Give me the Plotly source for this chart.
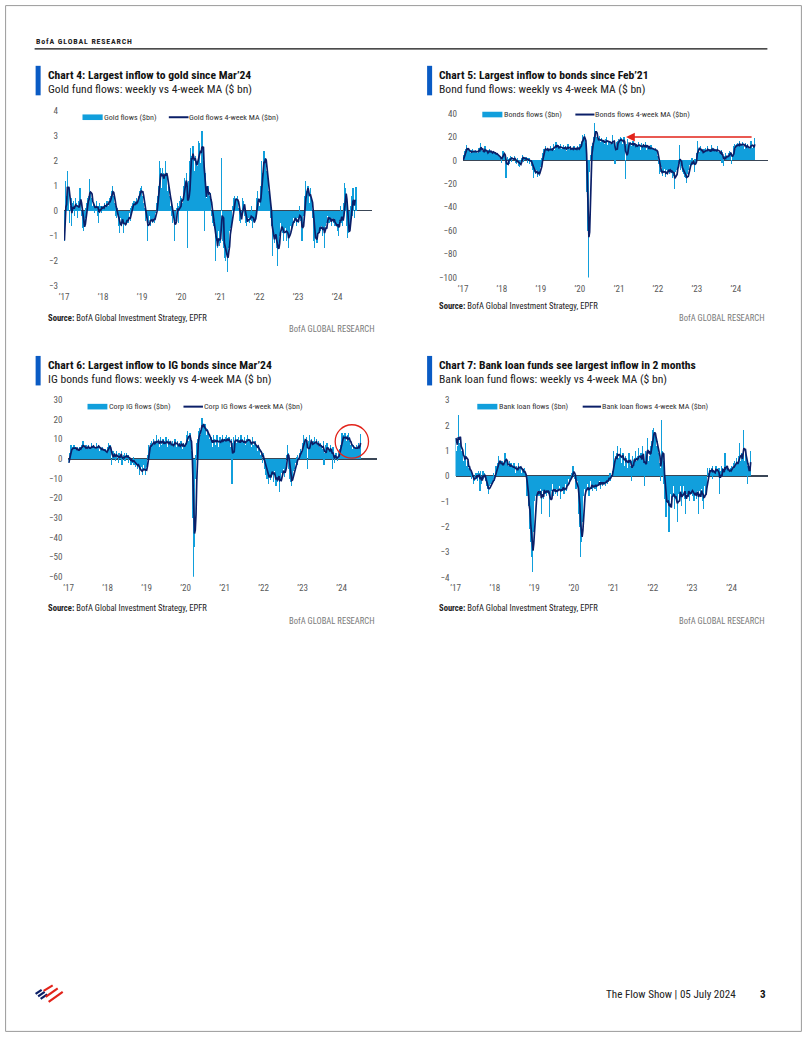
import pandas as pd
import plotly.graph_objects as go

# ---------------- DATA (weekly, first week 2017-01-04) ----------------
gold_2017 = [-1.2, 1.2, 0.4, 0.6, 1.6, 0.9, 0.7, -0.5,
             0.2, 0.5, -0.6, 0.3, 0.4, 0.2, -0.2, 0.5,
             0.3, 0.2, -0.3, 0.4, 0.2, 0.9, 0.3, -0.2,
             -0.7, -0.6, -0.8, -0.5, -0.3, 0.1, 0.3, 0.5,
             0.6, 0.4, 1.25, 0.7, 0.5, 0.2, 0.1, 0.3,
             -0.1, 0.2, 0.1, 0.4, -0.2, 0.2, -0.5, 0.3,
             0.1, 0.2, -0.1, 0.2]
gold_2018 = [0.2, 0.1, 0.3, 0.2, 0.1, 0.4, 0.3, 0.2,
             0.5, 0.4, 0.6, 0.8, 1.0, 0.6, 0.5, 0.3,
             0.2, -0.2, -0.3, 0.1, -0.4, -0.6, -0.9, -0.3,
             -0.5, -0.2, -0.4, -0.9, -0.5, -0.3, -0.6, -0.4,
             -0.2, -0.5, -0.3, -0.1, -0.4, 0.1, 0.2, 0.3,
             0.1, 0.4, 0.2, 0.3, 0.5, 0.2, 0.4, 0.6,
             0.8, 0.5, 0.9, 1.0]
gold_2019 = [0.6, 0.5, 0.3, 0.1, -0.2, -0.4, -0.3, -1.2,
             -0.5, -0.3, -0.2, -0.6, -0.4, -0.3, -0.5, -0.2,
             -0.3, -0.5, -0.1, 0.2, 0.3, 0.6, 1.0, 2.0,
             1.2, 1.7, 0.9, 1.7, 1.5, 1.0, 1.4, 2.0,
             1.2, 1.4, 0.8, 1.0, 0.6, 0.4, 0.2, 0.3,
             -0.2, -0.5, -0.3, -1.2, -0.2, -0.4, 0.1, 0.3,
             0.2, -0.5, 0.4, 0.6]
gold_2020 = [0.2, 0.5, 0.3, 0.8, 1.0, 1.3, 1.0, 1.5,
             0.6, -1.5, 1.2, 2.0, 1.7, 2.5, 2.2, 1.8,
             2.6, 2.0, 1.6, 2.2, 1.5, 2.0, 1.8, 2.8,
             2.2, 2.7, 1.9, 2.4, 3.2, 2.6, 2.0, -0.8,
             1.5, 1.0, 0.5, 0.9, 1.0, 0.3, 0.6, 0.7,
             0.2, -0.2, -0.5, -0.3, -0.6, -0.4, -2.0, -1.2,
             -1.0, -1.5, -0.8, -1.4]
gold_2021 = [-1.0, -1.3, 2.1, -0.6, -1.2, -1.5, -1.9, -1.3,
             -2.0, -1.6, -2.45, -1.5, -1.0, -0.8, -0.5, -0.7,
             -0.3, 0.2, 0.5, 0.3, 0.6, 0.4, 0.5, 0.2,
             0.6, 0.1, -0.4, -0.3, -0.5, -0.2, 0.5, 0.4,
             0.3, -0.2, -0.5, -0.3, -0.6, -0.4, -0.2, -0.3,
             -0.5, -0.3, 0.2, -0.4, -0.7, -0.3, -0.5, -0.2,
             -0.3, 0.5, 0.8, 0.3]
gold_2022 = [0.3, 0.2, 0.5, 1.0, 2.0, 1.5, 1.8, 2.4,
             2.0, 2.1, 1.6, 1.2, 1.5, 0.8, 0.6, 0.3,
             -0.3, -0.6, -1.8, -0.9, -0.6, -1.3, -1.0, -0.9,
             -1.5, -2.2, -1.4, -1.0, -0.7, -0.5, -0.8, -0.6,
             -0.9, -1.2, -0.8, -0.6, -0.7, -1.2, -0.9, -0.8,
             -1.5, -1.0, -0.6, -0.4, -0.8, -0.5, -0.3, -0.2,
             -0.5, -0.3, -0.4, -0.6]
gold_2023 = [-0.3, -0.5, 0.2, -0.2, -0.4, -0.8, -1.2, -0.3,
             -0.2, 0.3, 0.6, 1.2, 0.8, 0.6, 1.0, 0.4,
             0.3, 0.9, 0.5, 0.2, -0.3, -0.6, -1.2, -1.5,
             -1.0, -0.8, -1.3, -0.6, -0.9, -0.7, -0.5, -0.8,
             -0.6, -1.0, -0.7, -0.4, -1.5, -0.6, -0.3, -0.5,
             -0.2, -0.1, -0.5, -0.4, -0.3, -0.6, -0.2, -0.3,
             -0.5, -0.4, -0.6, -0.5]
gold_2024 = [-0.6, -0.8, -0.3, -1.0, -0.4, 0.2, -0.5, -0.3, -0.6,
             -0.2, 0.3, 1.1, 0.9, 0.4, -0.6, -1.1, -0.9, -0.8,
             -0.4, 0.2, 0.6, -0.2, 0.9, 0.4, -0.3, 0.6, 0.95]

bond_2017 = [0.5, 5, 8, 10, 13, 9, 7, 11,
             8, 6, 5, 9, 10, 7, 6, 8,
             9, 7, 8, 6, 9, 11, 7, 15,
             10, 6, 8, 7, 9, 12, 5, 8,
             7, 6, 9, 10, 5, 8, 6, 7,
             8, 5, 6, 7, 4, 6, 3, 5,
             2, 3, 1, -2]
bond_2018 = [6, 8, 5, 4, 2, -15, -2, 3,
             1, -3, 2, 4, 3, -1, 0, 2,
             4, 1, -2, -3, 0, 2, -5, -6,
             -3, 0, 2, 5, 3, -1, 1, 2,
             3, 0, -2, 1, 2, -3, -1, 0,
             -5, -8, -15, -6, -10, -12, -8, -14,
             -11, -9, -13, -6]
bond_2019 = [-4, 2, 6, 9, 10, 8, 12, 7,
             9, 11, 8, 10, 7, 12, 9, 8,
             11, 14, 9, 12, 16, 10, 13, 11,
             9, 12, 14, 10, 8, 11, 13, 9,
             10, 12, 8, 11, 14, 9, 10, 12,
             8, 10, 11, 9, 12, 8, 10, 11,
             9, 12, 10, 8]
bond_2020 = [14, 12, 16, 22, 17, 20, 23, 15,
             10, -27, -60, -100, -75, -10, 5, 12,
             12, 15, 20, 22, 32, 24, 20, 18,
             15, 18, 21, 16, 14, 19, 17, 15,
             16, 14, 18, 15, 20, 13, 16, 15,
             17, 14, 12, 16, 22, 15, 13, -3,
             12, 16, 14, 17]
bond_2021 = [18, 16, 20, 15, 19, 14, 17, 20,
             12, -16, 8, 14, 18, 12, 15, 13,
             16, 12, 14, 17, 11, 15, 13, 10,
             14, 12, 16, 11, 13, 9, 15, 12,
             11, 14, 10, 12, 16, 9, 13, 11,
             10, 12, 8, 13, 9, 11, 7, 10,
             8, 11, 6, 9]
bond_2022 = [4, -3, -8, -12, -10, -6, -13, -9,
             -11, -7, -12, -14, -8, -10, -5, -9,
             -12, -7, -11, -6, -15, -9, -13, -24,
             -10, -6, -8, -4, -2, 13, -3, -8,
             -5, -8, -10, -12, -14, -10, -15, -19,
             -12, -8, -4, -2, -6, -1, 2, -4,
             0, -10, 1, -2]
bond_2023 = [6, 17, 9, 10, 7, 12, 9, 6,
             8, 4, 10, 7, 11, 6, 9, 12,
             8, 5, 10, 7, 13, 9, 6, 11,
             8, 10, 6, 9, 12, 7, 5, 8,
             6, 9, -2, 7, -5, 4, 2, 6,
             3, 1, 4, 6, 8, 5, 7, -3,
             4, 10, 12, 14]
bond_2024 = [10, 14, 12, 15, 13, 11, 17, 12, 14,
             13, 16, 12, 10, 15, 9, 12, 14, 11,
             8, 10, 15, 17, 9, 11, 13, 12, 19]

ig_2017 = [-2, 3, 5, 7, 4, 6, 5, 7,
           4, 6, 5, 3, 6, 4, 5, 6,
           5, 7, 6, 9, 5, 6, 4, 7,
           6, 5, 7, 4, 6, 5, 8, 6,
           5, 7, 6, 4, 5, 8, 6, 5,
           7, 4, 6, 5, 3, 6, 4, 5,
           3, 5, 2, 4]
ig_2018 = [6, 8, 5, 7, 3, -3, 2, 4,
           1, 3, -1, 2, 4, 0, -2, 3,
           2, 1, 4, -3, 0, 2, 3, -1,
           1, 3, 0, 2, -2, 1, 0, -3,
           0, -2, 1, -3, -2, -4, -1, -3,
           -5, -3, -6, -8, -5, -4, -8, -6,
           -3, -5, -8, -6]
ig_2019 = [-4, 2, 5, 7, 6, 8, 5, 9,
           7, 10, 8, 6, 9, 12, 7, 8,
           10, 6, 9, 11, 7, 8, 10, 6,
           9, 7, 11, 8, 6, 10, 7, 9,
           8, 5, 7, 9, 6, 8, 10, 7,
           6, 9, 7, 5, 8, 6, 9, 7,
           5, 8, 6, 7]
ig_2020 = [8, 10, 12, 14, 9, 11, 13, 7,
           4, -17, -30, -60, -45, -10, 2, 8,
           10, 12, 14, 16, 12, 18, 21, 15,
           17, 13, 18, 14, 12, 15, 11, 13,
           10, 7, 11, 9, 6, 12, 8, 10,
           7, 9, 12, 8, 6, 10, 11, 7,
           9, 12, 8, 10]
ig_2021 = [9, 11, 7, 12, 10, 8, 11, 9,
           6, 10, -13, 8, 11, 7, 9, 12,
           8, 10, 6, 11, 9, 7, 12, 8,
           10, 6, 9, 11, 7, 8, 10, 12,
           9, 7, 10, 8, 6, 9, 11, 7,
           8, 5, 9, 6, 4, 7, 3, 5,
           2, 4, 1, -2]
ig_2022 = [3, -2, -5, -8, -4, -10, -6, -13,
           -9, -5, -11, -7, -3, -8, -12, -6,
           -10, -14, -8, -12, -6, -9, -17, -11,
           -7, -4, -8, -5, -9, -6, -3, 2,
           7, 3, -5, -10, -12, -8, -14, -9,
           -6, -3, -5, -2, 1, -3, 2, 0,
           3, 2, 5, 4]
ig_2023 = [6, 8, 12, 9, 10, 7, 11, -5,
           9, 6, 12, 8, 10, 5, 7, 9,
           11, 6, 8, 10, 7, 5, 9, 6,
           8, 4, 7, 5, 9, -3, 3, 7,
           5, 8, 2, 6, 3, 4, 7, 5,
           -5, 6, 2, -2, 1, 3, 0, -1,
           2, 4, 5, 7]
ig_2024 = [9, 13, 10, 12, 8, 13, 11, 9, 12,
           8, 13, 9, 7, 6, 8, 5, 7, 4,
           6, 5, 7, 4, 6, 8, 5, 7, 12.5]

loan_2017 = [1.5, 1.0, 1.2, 2.4, 1.3, 1.1, 1.4, 0.9,
             1.0, 0.8, 0.6, 0.7, 0.5, 1.3, 0.4, 0.6,
             0.3, 0.2, 0.4, 0.1, 0.2, -0.1, 0.1, -0.3,
             -0.2, 0.0, 0.1, -0.1, 0.1, -0.2, 0.2, 0.1,
             -0.6, 0.2, -0.3, 0.0, 0.2, -0.1, 0.1, -0.2,
             -0.3, -0.4, -0.5, -0.7, -0.4, -0.3, -0.2, -0.4,
             -0.3, -0.1, 0.1, -0.2]
loan_2018 = [0.2, 0.4, 0.3, 0.5, 0.8, 0.4, 0.6, 0.5,
             0.4, 0.6, 0.3, 0.5, 0.7, 0.9, 0.4, 0.6,
             0.5, 0.3, 0.4, 0.6, 0.2, 0.5, 0.3, 0.4,
             0.2, 0.5, 0.3, 0.1, 0.4, 0.2, 0.3, 0.5,
             0.3, 0.2, 0.4, 0.1, 0.3, 0.2, 0.0, 0.3,
             0.1, -0.2, -0.8, -0.5, -1.2, -2.1, -1.6, -2.6,
             -3.2, -3.8, -2.2, -1.5]
loan_2019 = [-1.0, -0.8, -0.5, -0.9, -0.6, -0.4, -0.8, -0.7,
             -0.5, -1.5, -0.3, -0.6, -0.9, -0.4, -0.7, -0.5,
             -0.8, -0.6, -0.4, -0.7, -1.6, -0.9, -0.5, -0.6,
             -0.3, -0.8, -0.6, -0.4, -0.7, -0.5, -0.8, -0.3,
             -0.6, -0.4, -0.9, -0.5, -0.3, -0.6, -0.4, -0.7,
             -0.5, -0.3, -0.6, -0.2, -0.4, -0.1, -0.3, 0.0,
             -0.2, 0.1, 0.0, 0.4]
loan_2020 = [0.2, -0.1, -0.3, -0.5, -0.4, -0.2, -0.8, -1.5,
             -2.0, -3.2, -2.6, -1.8, -1.0, -0.8, -0.5, -0.7,
             -0.4, -0.6, -0.3, -0.5, -0.8, -0.4, -0.2, -0.5,
             -0.3, -0.6, -0.4, -0.2, -0.5, -0.3, -0.6, -0.1,
             -0.4, -0.3, -0.2, -0.5, -0.1, -0.3, -0.4, -0.2,
             -0.3, -0.1, -0.4, -0.2, 0.0, -0.3, -0.1, 0.1,
             -0.2, 0.1, 0.0, 0.2]
loan_2021 = [0.3, 1.0, 0.6, 0.8, 0.5, 0.9, 1.2, 0.7,
             0.6, 0.8, 1.1, 0.5, 0.7, 0.9, 0.6, 0.4,
             0.8, 0.5, 0.7, 0.3, 0.6, 0.9, 0.5, 0.4,
             -0.2, 0.6, 0.8, 0.5, 0.7, 0.4, 1.0, 0.6,
             0.5, 0.8, 1.1, 0.7, 0.4, 0.9, 0.6, 1.2,
             0.8, -0.4, 0.6, 1.0, 0.7, 1.5, 0.9, 0.6,
             0.8, 1.2, 1.0, 1.4]
loan_2022 = [1.8, 1.9, 1.5, 1.7, 1.6, 1.2, 0.8, 1.4,
             0.9, 0.5, 0.3, -0.2, 2.2, 1.0, 0.6, -0.3,
             -0.9, -0.7, -1.6, -0.8, -1.0, -0.6, -2.2, -0.9,
             -0.7, -1.2, -0.5, -0.8, -0.4, -1.3, -0.9, -0.6,
             -1.0, -1.8, -0.7, -0.5, -0.9, -0.4, -1.2, -0.8,
             -0.6, -0.4, -0.9, -0.5, -1.5, -0.7, -0.3, -0.8,
             -0.6, -1.0, -0.4, -0.7]
loan_2023 = [-0.4, -0.8, -0.6, -1.0, -0.5, -0.7, -0.9, -0.6,
             -0.3, -1.5, -0.6, -0.4, -0.8, -0.5, -1.0, -0.6,
             -1.3, -0.4, -0.7, -0.5, -0.3, 0.3, 0.1, 0.3,
             0.2, 0.1, 0.3, 0.4, -0.1, 0.2, 0.1, 0.3,
             0.4, 0.1, 0.2, 0.0, 0.3, -0.7, 0.2, 0.4,
             0.1, 0.3, 0.2, 0.0, 0.9, 0.1, 0.4, 0.2,
             0.3, 0.1, 0.2, 0.3]
loan_2024 = [0.2, 0.4, 0.3, 0.5, 0.2, 0.6, 0.4, 0.7, 0.5,
             0.3, 0.8, 1.3, 0.6, 0.5, 0.9, 0.7, 1.8, 1.0,
             0.6, 0.9, 0.8, 0.4, -0.3, 0.5, 0.3, 0.4, 1.0]

gold_flows = gold_2017 + gold_2018 + gold_2019 + gold_2020 + gold_2021 + gold_2022 + gold_2023 + gold_2024
bond_flows = bond_2017 + bond_2018 + bond_2019 + bond_2020 + bond_2021 + bond_2022 + bond_2023 + bond_2024
ig_flows = ig_2017 + ig_2018 + ig_2019 + ig_2020 + ig_2021 + ig_2022 + ig_2023 + ig_2024
loan_flows = loan_2017 + loan_2018 + loan_2019 + loan_2020 + loan_2021 + loan_2022 + loan_2023 + loan_2024

year_ticks = ["2017-01-01", "2018-01-01", "2019-01-01", "2020-01-01",
              "2021-01-01", "2022-01-01", "2023-01-01", "2024-01-01"]
year_labels = ["’17", "’18", "’19", "’20", "’21", "’22", "’23", "’24"]

# ---------------- STYLE ----------------
W, H = 802, 1037
BAR = "#119fdc"
NAVY = "#0b1f68"
ZERO = "#3a4656"
TXT = "#222222"
GREY = "#595959"
BLUEBAR = "#0a5bc4"
RED = "#e2231a"
FONT = "Liberation Sans Narrow, Arial Narrow, Roboto Condensed, DejaVu Sans Condensed, Roboto, sans-serif"
WEEK_MS = 7 * 24 * 3600 * 1000
K = 0.99    # the photographed page comes back slightly scaled / offset
OFF = 4.5


def tx_(v):
    return (v - OFF) / K


def px(x):
    return tx_(x) / W


def py(y):
    return 1 - tx_(y) / H


def fs(s):
    return s / K


charts = [
    dict(name="gold", flows=gold_flows, ax="", x0=63.3, x1=370, ytop=110, ybot=285,
         yr=(-3, 4), dtick=1,
         bar_label="Gold flows ($bn)", ma_label="Gold flows 4-week MA ($bn)",
         leg=(81.7, 102.3, 167.7, 187.3, 116.7),
         title="Chart 4: Largest inflow to gold since Mar’24",
         subtitle="Gold fund flows: weekly vs 4-week MA ($ bn)",
         tx=35, ty=74.3, src_y=317, brand_y=328, brand_x=375, ppy=38.86),
    dict(name="bond", flows=bond_flows, ax="2", x0=460.7, x1=765, ytop=113, ybot=277,
         yr=(-100, 40), dtick=20,
         bar_label="Bonds flows ($bn)", ma_label="Bonds flows 4-week MA ($bn)",
         leg=(480, 500.5, 572.7, 591.7, 114),
         title="Chart 5: Largest inflow to bonds since Feb’21",
         subtitle="Bond fund flows: weekly vs 4-week MA ($ bn)",
         tx=425, ty=74.3, src_y=305, brand_y=317, brand_x=764, ppy=38.86),
    dict(name="ig", flows=ig_flows, ax="3", x0=67.7, x1=375, ytop=399.3, ybot=576,
         yr=(-60, 30), dtick=10,
         bar_label="Corp IG flows ($bn)", ma_label="Corp IG flows 4-week MA ($bn)",
         leg=(86.7, 107, 182.3, 201.7, 406),
         title="Chart 6: Largest inflow to IG bonds since Mar’24",
         subtitle="IG bonds fund flows: weekly vs 4-week MA ($ bn)",
         tx=35, ty=364.3, src_y=607, brand_y=620, brand_x=375, ppy=38.9),
    dict(name="loan", flows=loan_flows, ax="4", x0=453.3, x1=765, ytop=399.3, ybot=576.7,
         yr=(-4, 3), dtick=1,
         bar_label="Bank loan flows ($bn)", ma_label="Bank loan flows 4-week MA ($bn)",
         leg=(475, 495.5, 580, 598.3, 406),
         title="Chart 7: Bank loan funds see largest inflow in 2 months",
         subtitle="Bank loan fund flows: weekly vs 4-week MA ($ bn)",
         tx=425, ty=364.3, src_y=607, brand_y=620, brand_x=764, ppy=39.3),
]

fig = go.Figure()
shapes = []
annotations = []
layout_axes = {}

start = pd.Timestamp("2017-01-01")
for c in charts:
    s = pd.Series(c["flows"], dtype=float)
    dates = pd.date_range("2017-01-04", periods=len(s), freq="7D")
    ma = s.rolling(4, min_periods=1).mean()
    xa = "x" + c["ax"]
    ya = "y" + c["ax"]
    fig.add_trace(go.Bar(x=dates, y=s, width=[WEEK_MS * 1.6] * len(s),
                         marker=dict(color=BAR, line=dict(width=0)),
                         xaxis=xa, yaxis=ya, showlegend=False, hoverinfo="skip"))
    fig.add_trace(go.Scatter(x=dates, y=ma, mode="lines", line=dict(color=NAVY, width=1.7),
                             xaxis=xa, yaxis=ya, showlegend=False, hoverinfo="skip"))
    years = (c["x1"] - c["x0"]) / c["ppy"]
    xend = start + pd.Timedelta(days=years * 365.25)
    xkey = "xaxis" + c["ax"]
    ykey = "yaxis" + c["ax"]
    lo, hi = c["yr"]
    span = hi - lo
    layout_axes[xkey] = dict(
        domain=[px(c["x0"]), px(c["x1"])], anchor=ya, type="date",
        range=[start - pd.Timedelta(hours=12), xend],
        tickvals=year_ticks, ticktext=year_labels, showgrid=False, zeroline=False,
        showline=False, ticks="", tickfont=dict(family=FONT, size=fs(9), color=GREY),
        ticklabelstandoff=4, fixedrange=True)
    layout_axes[ykey] = dict(
        domain=[py(c["ybot"]), py(c["ytop"])], anchor=xa,
        range=[lo - span * 0.0005, hi + span * 0.0005], tickmode="linear", tick0=lo,
        dtick=c["dtick"], showgrid=False, zeroline=True, zerolinecolor=ZERO,
        zerolinewidth=1.5, showline=False, ticks="", layer="above traces",
        tickfont=dict(family=FONT, size=fs(9), color=GREY), ticklabelstandoff=5,
        fixedrange=True)

    # legend
    bx0, btx, lx0, ltx, ly = c["leg"]
    shapes.append(dict(type="rect", xref="paper", yref="paper", x0=px(bx0), x1=px(btx - 0.5),
                       y0=py(ly + 2.8), y1=py(ly - 2.8), fillcolor=BAR, line=dict(width=0)))
    shapes.append(dict(type="line", xref="paper", yref="paper", x0=px(lx0), x1=px(ltx),
                       y0=py(ly), y1=py(ly), line=dict(color=NAVY, width=2)))
    annotations.append(dict(text=c["bar_label"], x=px(btx - 1), y=py(ly), xref="paper", yref="paper",
                            xanchor="left", yanchor="middle", showarrow=False,
                            font=dict(family=FONT, size=fs(8), color="#333333")))
    annotations.append(dict(text=c["ma_label"], x=px(ltx - 1), y=py(ly), xref="paper", yref="paper",
                            xanchor="left", yanchor="middle", showarrow=False,
                            font=dict(family=FONT, size=fs(8), color="#333333")))

    # title block
    tx, ty = c["tx"], c["ty"]
    shapes.append(dict(type="rect", xref="paper", yref="paper", x0=px(tx), x1=px(tx + 5),
                       y0=py(ty + 20.5), y1=py(ty - 9), fillcolor=BLUEBAR, line=dict(width=0)))
    annotations.append(dict(text="<b>" + c["title"] + "</b>", x=px(tx + 10), y=py(ty),
                            xref="paper", yref="paper", xanchor="left", yanchor="middle",
                            showarrow=False, font=dict(family=FONT, size=fs(11.5), color="#111111")))
    annotations.append(dict(text=c["subtitle"], x=px(tx + 10), y=py(ty + 14.5),
                            xref="paper", yref="paper", xanchor="left", yanchor="middle",
                            showarrow=False, font=dict(family=FONT, size=fs(11.5), color="#222222")))
    # source + brand
    annotations.append(dict(text="<b>Source:</b> BofA Global Investment Strategy, EPFR",
                            x=px(tx + 10), y=py(c["src_y"]), xref="paper", yref="paper",
                            xanchor="left", yanchor="middle", showarrow=False,
                            font=dict(family=FONT, size=fs(8.5), color=TXT)))
    annotations.append(dict(text="BofA GLOBAL RESEARCH", x=px(c["brand_x"]), y=py(c["brand_y"]),
                            xref="paper", yref="paper", xanchor="right", yanchor="middle",
                            showarrow=False, font=dict(family=FONT, size=fs(8.5), color="#7a7a7a")))

# red arrow on bonds chart (at the +20 level, pointing back to Feb'21)
annotations.append(dict(x="2021-03-08", y=20, ax="2024-06-10", ay=20, xref="x2", yref="y2",
                        axref="x2", ayref="y2", text="", showarrow=True, arrowhead=2,
                        arrowsize=1.1, arrowwidth=1.6, arrowcolor=RED))
# red circle on IG chart
R = 16.5 / K
shapes.append(dict(type="circle", xref="x3", yref="y3", xsizemode="pixel", ysizemode="pixel",
                   xanchor="2024-04-05", yanchor=8.9, x0=-R, x1=R, y0=-R, y1=R,
                   line=dict(color=RED, width=1.3)))

# page furniture
shapes.append(dict(type="rect", xref="paper", yref="paper", x0=0.6 / W, x1=1 - 0.6 / W,
                   y0=0.6 / H, y1=1 - 0.6 / H, line=dict(color="#9a9a9a", width=1)))
shapes.append(dict(type="line", xref="paper", yref="paper", x0=px(34), x1=px(764),
                   y0=py(48.3), y1=py(48.3), line=dict(color="#111111", width=1.2)))
HS = "\u200a"
header = "  ".join(HS.join(list(w)) for w in ["BofA", "GLOBAL", "RESEARCH"])
annotations.append(dict(text="<b>" + header + "</b>", x=px(33), y=py(41),
                        xref="paper", yref="paper", xanchor="left", yanchor="middle",
                        showarrow=False, font=dict(family=FONT, size=fs(7.8), color="#222222")))
annotations.append(dict(text="The Flow Show | 05 July 2024", x=px(735), y=py(994),
                        xref="paper", yref="paper", xanchor="right", yanchor="middle",
                        showarrow=False, font=dict(family=FONT, size=fs(11), color="#222222")))
annotations.append(dict(text="<b>3</b>", x=px(760), y=py(994),
                        xref="paper", yref="paper", xanchor="center", yanchor="middle",
                        showarrow=False, font=dict(family=FONT, size=fs(11), color="#111111")))
# logo (flag stripes)
for (xa_, ya_, xb_, yb_, col) in [
        (35, 993, 41, 989, "#0b1f68"), (37.5, 995.5, 44, 991, "#0b1f68"), (40, 998, 46.5, 993.5, "#0b1f68"),
        (43, 990, 52, 984.5, RED), (45, 996, 57, 987.5, RED), (48, 1001, 62, 991, RED)]:
    shapes.append(dict(type="line", xref="paper", yref="paper", x0=px(xa_), y0=py(ya_),
                       x1=px(xb_), y1=py(yb_), line=dict(color=col, width=2.2)))

fig.update_layout(
    width=W, height=H, margin=dict(l=0, r=0, t=0, b=0, pad=0),
    paper_bgcolor="white", plot_bgcolor="white", bargap=0, barmode="overlay",
    showlegend=False, shapes=shapes, annotations=annotations,
    font=dict(family=FONT, color=TXT), **layout_axes)

fig.write_html("out.html", include_plotlyjs=True, full_html=True,
               config={"displayModeBar": False, "staticPlot": True},
               post_script="document.body.style.margin='0';")
